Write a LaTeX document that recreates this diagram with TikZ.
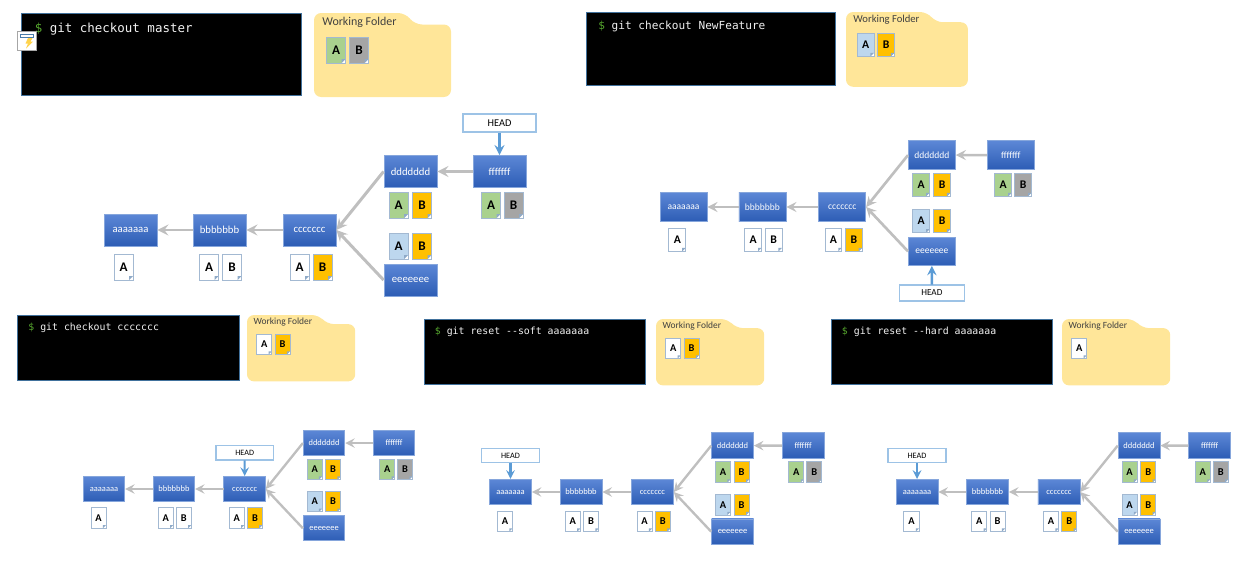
\documentclass[tikz,border=0pt]{standalone}
\usepackage{fontspec}
\usepackage{xcolor}
\setmainfont{Carlito}
\newfontfamily\termfont{DejaVu Sans Mono}
\definecolor{commitTop}{HTML}{5C87D6}
\definecolor{commitBottom}{HTML}{2D5DB5}
\definecolor{commitEdge}{HTML}{86A6DC}
\definecolor{parentGray}{HTML}{BFBFBF}
\definecolor{headEdge}{HTML}{9DC3E6}
\definecolor{headArrow}{HTML}{5B9BD5}
\definecolor{folderFill}{HTML}{FFE699}
\definecolor{fileEdge}{HTML}{A3B9D2}
\definecolor{fileFold}{HTML}{8FAAC8}
\definecolor{fileGreen}{HTML}{A9D18E}
\definecolor{fileGray}{HTML}{A5A5A5}
\definecolor{fileBlue}{HTML}{BDD7EE}
\definecolor{fileOrange}{HTML}{FFC000}
\definecolor{termEdge}{HTML}{41719C}
\definecolor{termText}{HTML}{F2F2F2}
\definecolor{termPrompt}{HTML}{55A52E}
\begin{document}
\begin{tikzpicture}[x=0.02cm,y=-0.02cm,
        commit/.style={minimum width=1.06cm,minimum height=0.64cm,inner sep=0pt,draw=commitEdge,line width=0.5pt,
            top color=commitTop,bottom color=commitBottom,text=white,font=\fontsize{6.1}{7}\selectfont},
        filedoc/.style={minimum width=0.38cm,minimum height=0.52cm,inner sep=0pt,draw=fileEdge,line width=0.5pt,
            font=\fontsize{7.5}{8}\selectfont\bfseries,
            path picture={
                \fill[white] (path picture bounding box.south east) ++(-4,0) -- ++(4,-4) -- ++(0,4) -- cycle;
                \fill[fileFold] (path picture bounding box.south east) ++(-4,0) -- ++(0,-4) -- ++(4,0) -- cycle;
            }},
        headbox/.style={minimum width=1.46cm,minimum height=0.36cm,inner sep=0pt,draw=headEdge,line width=0.7pt,
            fill=white,font=\fontsize{5.9}{7}\selectfont},
        terminal/.style={minimum width=5.6cm,minimum height=1.64cm,inner sep=0pt,draw=termEdge,line width=0.6pt,fill=black},
        termline/.style={inner sep=0pt,text=termText,font=\termfont\fontsize{7.1}{8}\selectfont},
        foldertext/.style={inner sep=0pt,text=black!75,font=\fontsize{6.8}{8}\selectfont},
        parent/.style={->,>=stealth,draw=parentGray},
        headlink/.style={->,>=stealth,draw=headArrow}]
        \useasboundingbox (0,0) rectangle (1243,565);

        % Terminals and working folders
        \foreach \p/\tx/\ty/\fx/\fy/\s/\cmd/\files in {
            p/21/13/314/13/1/git checkout master/{A/fileGreen/22,B/fileGray/45},
            q/586/12.5/846/12/0.89/git checkout NewFeature/{A/fileBlue/22,B/fileOrange/45},
            r/17.5/315/247/315/0.79/git checkout ccccccc/{A/white/22,B/fileOrange/45},
            t/424/319.5/656/319/0.79/git reset --soft aaaaaaa/{A/white/22,B/fileOrange/45},
            u/831/319.5/1062/319/0.79/git reset --hard aaaaaaa/{A/white/22}} {
            \begin{scope}[shift={(\tx,\ty)},scale=\s,transform shape]
                \node[terminal,anchor=north west] (\p term) at (0,0) {};
                \node[termline,anchor=west] (\p cmd) at (13.5,16) {\textcolor{termPrompt}{\$} \cmd};
            \end{scope}
            \begin{scope}[shift={(\fx,\fy)},scale=\s,transform shape]
                \fill[folderFill,rounded corners=4] (0,84) -- (0,0) -- (91,0) -- (101,11.5) -- (137,11.5) -- (137,84) -- cycle;
                \node[foldertext,anchor=west] (\p label) at (8,9) {Working Folder};
                \foreach \l/\c/\px in \files
                    \node[filedoc,fill=\c] (\p file\l) at (\px,37) {\l};
            \end{scope}
        }

        % Commit graphs
        \foreach \g/\gx/\gy/\s/\hx/\hy/\target in {
            m/130.5/230/1/369/-107/f,
            n/683.5/207/0.887/280/97/e,
            o/104/489/0.786/179/-46/c,
            v/510.5/492/0.793/0/-46/a,
            w/917/492/0.793/0/-46/a} {
            \begin{scope}[shift={(\gx,\gy)},scale=\s,transform shape]
                \node[commit] (\g a) at (0,0) {aaaaaaa};
                \node[commit] (\g b) at (89,0) {bbbbbbb};
                \node[commit] (\g c) at (179,0) {ccccccc};
                \node[commit] (\g d) at (280,-58.5) {ddddddd};
                \node[commit] (\g e) at (280,50) {eeeeeee};
                \node[commit] (\g f) at (369,-58.5) {fffffff};
                \node[headbox] (\g head) at (\hx,\hy) {HEAD};

                % Files below each commit
                \foreach \n/\l/\c/\px/\py in {
                    aA/A/white/-7/37,
                    bA/A/white/78.5/37, bB/B/white/101.5/37,
                    cA/A/white/169/37, cB/B/fileOrange/192/37,
                    dA/A/fileGreen/268/-25, dB/B/fileOrange/291.5/-25,
                    fA/A/fileGreen/360.5/-25, fB/B/fileGray/383/-25,
                    eA/A/fileBlue/268/16, eB/B/fileOrange/291.5/16}
                    \node[filedoc,fill=\c] (\g\n) at (\px,\py) {\l};

                % Parent links
                \draw[parent,line width=\s*1.7pt] (\g b) -- (\g a);
                \draw[parent,line width=\s*1.7pt] (\g c) -- (\g b);
                \draw[parent,line width=\s*1.7pt] (\g d.west) -- (\g c.east);
                \draw[parent,line width=\s*1.7pt] (\g e.west) -- (\g c.east);
                \draw[parent,line width=\s*1.7pt] (\g f) -- (\g d);
                \draw[headlink,line width=\s*1.5pt] (\g head) -- (\g\target);
            \end{scope}
        }

        % Small icon over the first terminal
        \draw[fill=white,draw=gray!70,line width=0.6pt] (17.3,31.5) rectangle (36.7,50.7);
        \draw[draw=headArrow!80!black,line width=0.5pt] (20,37) -- (20,34.5) -- (33,34.5) -- (33,37) -- cycle;
        \fill[fileOrange!70] (28,38) -- (32.5,38) -- (30.5,41.5) -- (33,41.5) -- (26,48.5) -- (28,43.5) -- (25.5,43.5) -- cycle;
    \end{tikzpicture}
\end{document}
